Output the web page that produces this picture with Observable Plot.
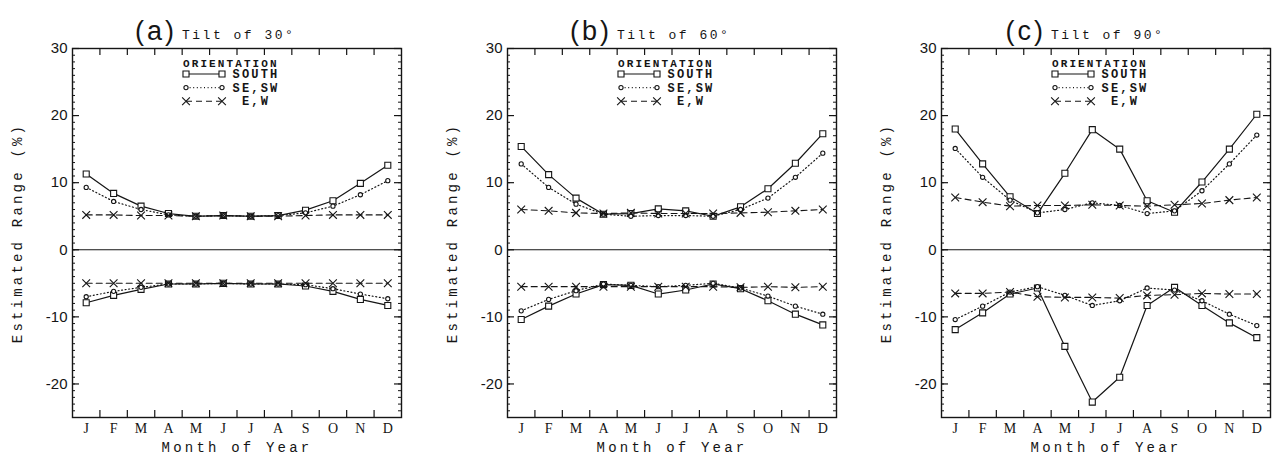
<!DOCTYPE html>
<html><head><meta charset="utf-8">
<script src="https://cdn.jsdelivr.net/npm/d3@7"></script>
<script src="https://cdn.jsdelivr.net/npm/@observablehq/plot@0.6"></script>
<style>
body{margin:0;background:#fff;}
#wrap{position:relative;width:1274px;height:456px;overflow:hidden;background:#fff;}
.panel{position:absolute;top:0;}
</style></head><body><div id="wrap"></div>
<script>
const months = ["J","F","M","A","M","J","J","A","S","O","N","D"];
const panelLetters = ["(a)","(b)","(c)"];
const tiltLabels = ["Tilt of 30°","Tilt of 60°","Tilt of 90°"];
const seriesNames = ["SOUTH","SE,SW","E,W"];
const yTickValues = [-20,-10,0,10,20,30];
const yLabel = "Estimated Range (%)";
const xLabel = "Month of Year";
const legendTitle = "ORIENTATION";

// Panel (a) tilt 30
const southUpA = [11.3, 8.4, 6.5, 5.4, 5.0, 5.1, 5.0, 5.1, 5.9, 7.3, 9.9, 12.6];
const southLoA = [-7.9, -6.8, -5.9, -5.1, -5.1, -5.0, -5.1, -5.1, -5.4, -6.2, -7.4, -8.3];
const sesUpA   = [9.3, 7.2, 6.0, 5.2, 5.0, 5.1, 5.0, 5.1, 5.5, 6.5, 8.2, 10.3];
const sesLoA   = [-7.0, -6.2, -5.6, -5.1, -5.1, -5.0, -5.1, -5.1, -5.2, -5.8, -6.6, -7.3];
const ewUpA    = [5.2, 5.2, 5.1, 5.1, 5.0, 5.1, 5.0, 5.0, 5.1, 5.2, 5.2, 5.2];
const ewLoA    = [-5.0, -5.0, -5.0, -5.0, -5.0, -5.0, -5.0, -5.0, -5.0, -5.0, -5.0, -5.0];

// Panel (b) tilt 60
const southUpB = [15.4, 11.2, 7.7, 5.3, 5.4, 6.1, 5.8, 5.0, 6.4, 9.1, 12.9, 17.3];
const southLoB = [-10.4, -8.4, -6.6, -5.2, -5.3, -6.6, -6.0, -5.1, -5.8, -7.6, -9.6, -11.2];
const sesUpB   = [12.8, 9.3, 6.8, 5.3, 5.0, 5.1, 5.1, 5.0, 6.0, 7.7, 10.8, 14.4];
const sesLoB   = [-9.1, -7.4, -6.1, -5.1, -5.3, -5.5, -5.3, -5.0, -5.7, -6.9, -8.4, -9.6];
const ewUpB    = [6.0, 5.8, 5.5, 5.4, 5.5, 5.4, 5.4, 5.4, 5.5, 5.6, 5.8, 6.0];
const ewLoB    = [-5.5, -5.5, -5.5, -5.5, -5.5, -5.5, -5.5, -5.5, -5.6, -5.5, -5.6, -5.5];

// Panel (c) tilt 90
const southUpC = [18.0, 12.8, 7.9, 5.4, 11.4, 17.9, 15.0, 7.3, 5.6, 10.1, 15.0, 20.2];
const southLoC = [-11.9, -9.4, -6.6, -5.7, -14.4, -22.7, -19.0, -8.3, -5.6, -8.3, -10.9, -13.1];
const sesUpC   = [15.1, 10.8, 7.4, 5.5, 6.0, 7.0, 6.6, 5.4, 5.8, 8.8, 12.8, 17.1];
const sesLoC   = [-10.4, -8.4, -6.3, -5.5, -6.8, -8.3, -7.6, -5.7, -6.0, -7.6, -9.6, -11.3];
const ewUpC    = [7.8, 7.1, 6.5, 6.6, 6.6, 6.7, 6.6, 6.5, 6.7, 6.9, 7.4, 7.8];
const ewLoC    = [-6.5, -6.5, -6.3, -7.0, -7.1, -7.1, -7.2, -6.8, -6.7, -6.5, -6.6, -6.6];

const panels = [
  [[southUpA, southLoA], [sesUpA, sesLoA], [ewUpA, ewLoA]],
  [[southUpB, southLoB], [sesUpB, sesLoB], [ewUpB, ewLoB]],
  [[southUpC, southLoC], [sesUpC, sesLoC], [ewUpC, ewLoC]]
];

const INK = "#151515";
const styles = {
  "SOUTH": {dash: null, symbol: "square", r: 3.4, width: 1.2},
  "SE,SW": {dash: "1,2.6", symbol: "circle", r: 2.1, width: 1.2},
  "E,W":   {dash: "6,4", symbol: "times", r: 3.6, width: 1.1}
};

const W = 405, H = 456, ML = 72, MR = 4, MT = 48, MB = 39;
const FW = W - ML - MR, FH = H - MT - MB;
const minorY = d3.range(-25, 31, 1);
const xTickPos = d3.range(1.5, 12, 1);

function legendMark(index, scales, values, dims) {
  const g = d3.create("svg:g");
  const x0 = dims.marginLeft, y0 = dims.marginTop;
  g.append("text").attr("x", x0 + 111).attr("y", y0 + 15).attr("dy", "0.35em").attr("text-anchor", "start")
    .attr("font-family", "Liberation Mono").attr("font-size", 11).attr("font-weight", "bold")
    .attr("letter-spacing", 2.1).attr("fill", INK).text(legendTitle);
  seriesNames.forEach((name, i) => {
    const s = styles[name];
    const y = y0 + 26 + i * 13.6;
    g.append("line").attr("x1", x0 + 114).attr("x2", x0 + 150).attr("y1", y).attr("y2", y)
      .attr("stroke", INK).attr("stroke-width", s.width).attr("stroke-dasharray", s.dash);
    const sym = {square: d3.symbolSquare, circle: d3.symbolCircle, times: d3.symbolTimes}[s.symbol];
    const path = d3.symbol(sym, s.r * s.r * Math.PI)();
    [x0 + 114, x0 + 150].forEach(x => {
      g.append("path").attr("d", path).attr("transform", `translate(${x},${y})`)
        .attr("fill", "white").attr("stroke", INK).attr("stroke-width", 1.1);
    });
    g.append("text").attr("x", x0 + 184).attr("y", y).attr("dy", "0.35em").attr("text-anchor", "middle")
      .attr("font-family", "Liberation Mono").attr("font-size", 12).attr("font-weight", "bold")
      .attr("letter-spacing", 2.2).attr("fill", INK).text(name);
  });
  return g.node();
}

function makePanel(p) {
  const data = [];
  panels[p].forEach(([up, lo], si) => {
    const name = seriesNames[si];
    months.forEach((m, i) => {
      data.push({m: i + 1, v: up[i], s: name, key: name + "-up"});
      data.push({m: i + 1, v: lo[i], s: name, key: name + "-lo"});
    });
  });
  const seriesMarks = seriesNames.flatMap(name => {
    const st = styles[name];
    const d = data.filter(r => r.s === name);
    return [
      Plot.line(d, {x: "m", y: "v", z: "key", stroke: INK, strokeWidth: st.width, strokeDasharray: st.dash}),
      Plot.dot(d, {x: "m", y: "v", symbol: () => st.symbol, r: st.r, stroke: INK, strokeWidth: 1.1, fill: st.symbol === "times" ? null : "white"})
    ];
  });
  const chart = Plot.plot({
    width: W, height: H,
    marginLeft: ML, marginRight: MR, marginTop: MT, marginBottom: MB,
    style: {background: "#fff", color: INK, overflow: "visible"},
    x: {domain: [0.5, 12.5], axis: null},
    y: {domain: [-25, 30], axis: null},
    marks: [
      Plot.ruleY([0], {stroke: INK, strokeWidth: 1.2}),
      ...seriesMarks,
      Plot.frame({stroke: INK, strokeWidth: 1.4}),
      Plot.ruleY(minorY, {stroke: INK, strokeWidth: 1, insetRight: FW - 3}),
      Plot.ruleY(minorY, {stroke: INK, strokeWidth: 1, insetLeft: FW - 3}),
      Plot.ruleY(yTickValues, {stroke: INK, strokeWidth: 1.2, insetRight: FW - 7}),
      Plot.ruleY(yTickValues, {stroke: INK, strokeWidth: 1.2, insetLeft: FW - 7}),
      Plot.ruleX(xTickPos, {stroke: INK, strokeWidth: 1.2, insetBottom: FH - 7}),
      Plot.ruleX(xTickPos, {stroke: INK, strokeWidth: 1.2, insetTop: FH - 7}),
      Plot.axisY({ticks: yTickValues, tickSize: 0, tickPadding: 5, tickFormat: d => String(d), fontSize: 15, fontFamily: "Liberation Sans", label: null}),
      Plot.axisX({ticks: d3.range(1, 13), tickSize: 0, tickPadding: 6, tickFormat: d => months[d - 1], fontSize: 14, fontFamily: "Liberation Serif", label: null}),
      Plot.text([yLabel], {frameAnchor: "left", dx: -55, rotate: -90, textAnchor: "middle", lineAnchor: "middle", fontSize: 14, fontFamily: "Liberation Mono", fill: INK}),
      Plot.text([xLabel], {frameAnchor: "bottom", dy: 30, textAnchor: "middle", lineAnchor: "middle", fontSize: 14, fontFamily: "Liberation Mono", fill: INK}),
      Plot.text([panelLetters[p]], {frameAnchor: "top", dx: -60, dy: -9, textAnchor: "end", lineAnchor: "bottom", fontSize: 27, fontFamily: "Liberation Sans", fill: INK}),
      Plot.text([tiltLabels[p]], {frameAnchor: "top", dx: -55, dy: -10, textAnchor: "start", lineAnchor: "bottom", fontSize: 13, fontFamily: "Liberation Mono", fill: INK}),
      legendMark
    ]
  });
  d3.select(chart).selectAll("text").each(function() {
    const t = this.textContent;
    if (t === yLabel || t === xLabel) d3.select(this).attr("letter-spacing", 3.2);
    else if (t.startsWith("Tilt")) d3.select(this).attr("letter-spacing", 2.5);
    else if (t.startsWith("(")) d3.select(this).attr("letter-spacing", 3);
  });
  return chart;
}

const lefts = [0, 435, 869];
const wrap = document.getElementById("wrap");
lefts.forEach((left, p) => {
  const div = document.createElement("div");
  div.className = "panel";
  div.style.left = left + "px";
  div.appendChild(makePanel(p));
  wrap.appendChild(div);
});
</script></body></html>
